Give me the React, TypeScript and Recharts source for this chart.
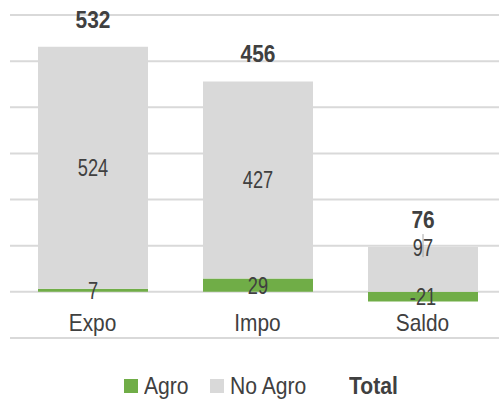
import { BarChart, Bar, XAxis, YAxis, CartesianGrid, Legend, LabelList } from 'recharts';

const categories = ['Expo', 'Impo', 'Saldo'];
const agro = [7, 29, -21];
const noAgro = [524, 427, 97];
const totals = [532, 456, 76];
const yTicks = [-100, 0, 100, 200, 300, 400, 500, 600];

const FONT = '"Liberation Sans", Arial, sans-serif';
const TEXT = '#404040';
const GREEN = '#70AD47';
const GRAY = '#D9D9D9';

const data = categories.map((name, i) => ({
  name,
  agro: agro[i],
  noAgro: noAgro[i],
  total: totals[i],
}));

// the source font is a narrow one; squeeze Liberation Sans horizontally instead
const NarrowText = ({ x, y, size = 24, sx = 0.8, bold = false, dy = '0', children }: any) => (
  <text
    transform={`translate(${x},${y}) scale(${sx},1)`}
    dy={dy}
    textAnchor="middle"
    fill={TEXT}
    fontSize={size}
    fontWeight={bold ? 'bold' : 'normal'}
    fontFamily={FONT}
  >
    {children}
  </text>
);

// category names sit just under the zero line, inside the plot
const CategoryTick = (props: any) => {
  const { x, y, payload } = props;
  return (
    <NarrowText x={x} y={y - 13} size={24} sx={0.87}>
      {payload.value}
    </NarrowText>
  );
};

const centerLabel = (props: any) => {
  const { x, y, width, height, value, index } = props;
  // Saldo's "No Agro" label was dragged up to the bar's top edge (leaves a leader tick)
  if (index === 2) {
    return (
      <g>
        <line x1={x + width / 2} x2={x + width / 2} y1={y - 13} y2={y + 10} stroke="#A6A6A6" strokeWidth={1} />
        <NarrowText x={x + width / 2} y={y} dy="0.35em" size={24} sx={0.76}>
          {value}
        </NarrowText>
      </g>
    );
  }
  return (
    <NarrowText x={x + width / 2} y={y + height / 2} dy="0.35em" size={24} sx={0.76}>
      {value}
    </NarrowText>
  );
};

const agroLabel = (props: any) => {
  const { x, y, width, height, value } = props;
  return (
    <NarrowText x={x + width / 2} y={y + height / 2} dy="0.35em" size={24} sx={0.76}>
      {value}
    </NarrowText>
  );
};

const totalLabel = (props: any) => {
  const { x, y, width, value } = props;
  return (
    <NarrowText x={x + width / 2} y={y - 19} size={24} sx={0.87} bold>
      {value}
    </NarrowText>
  );
};

const LegendText = ({ w, bold = false, children }: any) => (
  <span style={{ display: 'inline-block', width: w, whiteSpace: 'nowrap', fontWeight: bold ? 'bold' : 'normal' }}>
    <span style={{ display: 'inline-block', transform: 'scaleX(0.88)', transformOrigin: 'left center' }}>{children}</span>
  </span>
);

const renderLegend = () => (
  <div
    style={{
      height: 61,
      display: 'flex',
      alignItems: 'flex-end',
      justifyContent: 'center',
      fontFamily: FONT,
      fontSize: 24,
      color: TEXT,
      paddingLeft: 8,
      boxSizing: 'border-box',
    }}
  >
    <div style={{ display: 'flex', alignItems: 'center', height: 28, marginBottom: 0 }}>
      <span style={{ width: 14, height: 14, background: GREEN, marginRight: 6 }} />
      <LegendText w={45}>Agro</LegendText>
      <span style={{ width: 14, height: 14, background: GRAY, marginLeft: 21, marginRight: 6 }} />
      <LegendText w={78}>No Agro</LegendText>
      <span style={{ width: 41 }} />
      <LegendText w={51} bold>
        Total
      </LegendText>
    </div>
  </div>
);

export default function App() {
  return (
    <div style={{ position: 'absolute', left: 0, top: 0, width: 499, height: 400, overflow: 'hidden', background: '#fff' }}>
      <BarChart
        width={510}
        height={400}
        data={data}
        stackOffset="sign"
        barSize={110}
        margin={{ top: 15, right: 5, left: 10, bottom: 0 }}
      >
        <CartesianGrid vertical={false} stroke={GRAY} strokeWidth={2} />
        <XAxis
          dataKey="name"
          axisLine={false}
          tickLine={false}
          tickMargin={0}
          height={1}
          tick={<CategoryTick />}
          interval={0}
        />
        <YAxis hide domain={[-100, 600]} ticks={yTicks} />
        <Legend verticalAlign="bottom" height={61} content={renderLegend} />
        <Bar dataKey="agro" name="Agro" stackId="a" fill={GREEN} isAnimationActive={false}>
          <LabelList dataKey="agro" content={agroLabel} />
        </Bar>
        <Bar dataKey="noAgro" name="No Agro" stackId="a" fill={GRAY} isAnimationActive={false}>
          <LabelList dataKey="noAgro" content={centerLabel} />
          <LabelList dataKey="total" content={totalLabel} />
        </Bar>
      </BarChart>
    </div>
  );
}
